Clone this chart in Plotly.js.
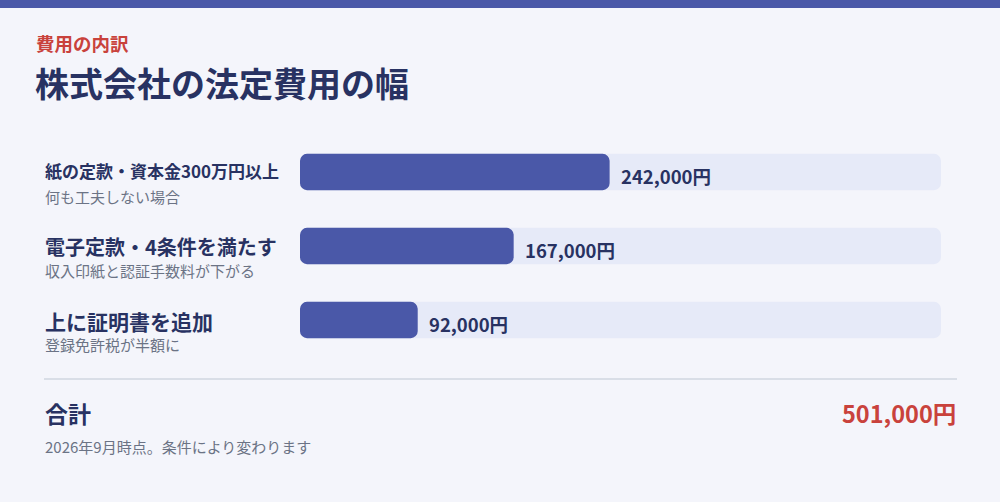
<!DOCTYPE html>
<html>
<head>
<meta charset="utf-8">
<script src="https://cdn.plot.ly/plotly-3.0.1.min.js"></script>
<style>
html,body{margin:0;padding:0;background:#f4f5fb;}
#chart{width:1000px;height:502px;}
</style>
</head>
<body>
<div id="chart"></div>
<script>
// ---- data ----
const categories = ["紙の定款・資本金300万円以上", "電子定款・4条件を満たす", "上に証明書を追加"];
const subLabels = ["何も工夫しない場合", "収入印紙と認証手数料が下がる", "登録免許税が半額に"];
const costs = [242000, 167000, 92000];
const kicker = "費用の内訳";
const heading = "株式会社の法定費用の幅";
const totalLabel = "合計";
const footnote = "2026年9月時点。条件により変わります";

const total = costs.reduce((a, b) => a + b, 0);
const fmt = v => v.toLocaleString("en-US") + "円";

// ---- layout geometry (pixels) ----
const W = 1000, H = 502;
const L = 300, R = 941, T = 135, B = 357;
const px = x => (x - L) / (R - L);      // pixel x -> paper x
const py = y => (B - y) / (B - T);      // pixel y -> paper y

const FONT = '"Noto Sans CJK JP", "Noto Sans", sans-serif';
const NAVY = "#283262";
const RED = "#c9423c";
const GRAY = "#6b7385";
const BAR = "#4a58a8";
const TRACK = "#e6eaf8";

function barTrace(vals, color) {
  return {
    type: "bar", orientation: "h", y: categories, x: vals,
    base: vals.map(() => 0), width: 0.49,
    marker: {color: color, cornerradius: 7, line: {width: 0}},
    hoverinfo: "skip", showlegend: false
  };
}
const traces = [barTrace(categories.map(() => total), TRACK), barTrace(costs, BAR)];

const annotations = [];
const titleSizes = [17, 20, 21];
const titleOffsets = [-2, 0, 1];
const subOffsets = [24, 24, 24];
categories.forEach((c, i) => {
  annotations.push({
    xref: "x", yref: "y", x: costs[i], y: c,
    xanchor: "left", yanchor: "middle", xshift: 9, yshift: -4,
    text: "<b>" + fmt(costs[i]) + "</b>", showarrow: false,
    font: {family: FONT, size: 18.5, color: NAVY}
  });
  annotations.push({
    xref: "paper", yref: "y", x: px(43), y: c,
    xanchor: "left", yanchor: "middle", yshift: -titleOffsets[i],
    text: "<b>" + c + "</b>", showarrow: false,
    font: {family: FONT, size: titleSizes[i], color: NAVY}
  });
  annotations.push({
    xref: "paper", yref: "y", x: px(43), y: c,
    xanchor: "left", yanchor: "middle", yshift: -subOffsets[i],
    text: subLabels[i], showarrow: false,
    font: {family: FONT, size: 15, color: GRAY}
  });
});

annotations.push({
  xref: "paper", yref: "paper", x: px(34), y: py(43),
  xanchor: "left", yanchor: "middle", showarrow: false,
  text: "<b>" + kicker + "</b>",
  font: {family: FONT, size: 18.5, color: RED}
});
annotations.push({
  xref: "paper", yref: "paper", x: px(33), y: py(83),
  xanchor: "left", yanchor: "middle", showarrow: false,
  text: "<b>" + heading + "</b>",
  font: {family: FONT, size: 34, color: NAVY}
});
annotations.push({
  xref: "paper", yref: "paper", x: px(43), y: py(413),
  xanchor: "left", yanchor: "middle", showarrow: false,
  text: "<b>" + totalLabel + "</b>",
  font: {family: FONT, size: 23, color: NAVY}
});
annotations.push({
  xref: "paper", yref: "paper", x: px(958), y: py(413),
  xanchor: "right", yanchor: "middle", showarrow: false,
  text: "<b>" + fmt(total) + "</b>",
  font: {family: FONT, size: 23.5, color: RED}
});
annotations.push({
  xref: "paper", yref: "paper", x: px(43), y: py(446),
  xanchor: "left", yanchor: "middle", showarrow: false,
  text: footnote,
  font: {family: FONT, size: 15, color: GRAY}
});

const shapes = [
  {type: "rect", xref: "paper", yref: "paper",
   x0: px(0), x1: px(W), y0: py(0), y1: py(8),
   fillcolor: BAR, line: {width: 0}, layer: "below"},
  {type: "line", xref: "paper", yref: "paper",
   x0: px(44), x1: px(957), y0: py(379), y1: py(379),
   line: {color: "#d9dee7", width: 2}}
];

const layout = {
  width: W, height: H,
  margin: {l: L, r: W - R, t: T, b: H - B, pad: 0},
  paper_bgcolor: "#f4f5fb", plot_bgcolor: "rgba(0,0,0,0)",
  barmode: "overlay",
  barcornerradius: 7,
  showlegend: false,
  xaxis: {range: [0, total], visible: false, fixedrange: true},
  yaxis: {type: "category", range: [2.5, -0.5], visible: false, fixedrange: true},
  annotations: annotations,
  shapes: shapes,
  font: {family: FONT}
};

Plotly.newPlot("chart", traces, layout, {displayModeBar: false, staticPlot: true});
</script>
</body>
</html>
